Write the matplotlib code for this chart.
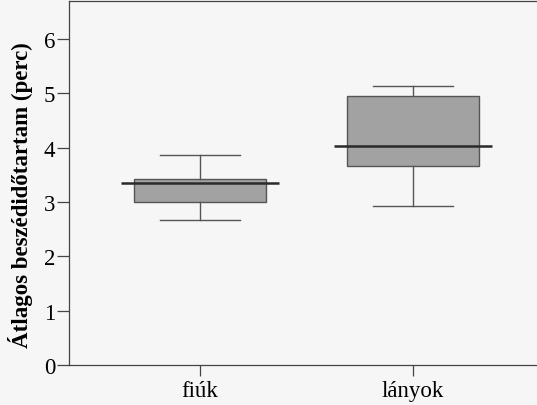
import matplotlib
matplotlib.use("Agg")
import matplotlib.pyplot as plt

# values
groups = ["fiúk", "lányok"]
whislo = [2.67, 2.93]
q1 = [3.00, 3.66]
med = [3.35, 4.03]
q3 = [3.43, 4.95]
whishi = [3.87, 5.14]
yticks = [0, 1, 2, 3, 4, 5, 6]

plt.rcParams['font.family'] = ['Liberation Serif', 'DejaVu Serif']

fig = plt.figure(figsize=(5.37, 4.06), dpi=100)
fig.patch.set_facecolor('#f6f6f6')
ax = fig.add_axes([0.1285, 0.0985, 0.8715, 0.8965])
ax.set_facecolor('#f6f6f6')

pos = [1, 2]
stats = []
for i, g in enumerate(groups):
    stats.append({"label": g, "whislo": whislo[i], "q1": q1[i], "med": med[i],
                  "q3": q3[i], "whishi": whishi[i], "fliers": []})

edge = '#555555'
ax.bxp(stats, positions=pos, widths=0.62, patch_artist=True, showfliers=False,
       boxprops=dict(facecolor='#a2a2a2', edgecolor=edge, linewidth=1.0),
       whiskerprops=dict(color=edge, linewidth=1.0),
       capprops=dict(color=edge, linewidth=1.0),
       capwidths=0.38,
       medianprops=dict(linewidth=0))
# median line sticks out past the box
for p, m in zip(pos, med):
    ax.hlines(m, p - 0.37, p + 0.37, color='#2a2a2a', linewidth=1.8, zorder=5)

ax.set_xlim(0.385, 2.582)
ax.set_ylim(0, 6.7)
ax.set_yticks(yticks)
ax.set_xticks(pos)
ax.set_xticklabels(groups)
ax.tick_params(axis='both', direction='out', labelsize=16.5, color='#444444',
               width=0.9)
ax.tick_params(axis='y', length=9, pad=1)
ax.tick_params(axis='x', length=8, pad=3)
ax.spines['right'].set_visible(False)
for s in ['left', 'top', 'bottom']:
    ax.spines[s].set_color('#444444')
    ax.spines[s].set_linewidth(0.9)

ax.set_ylabel("Átlagos beszédidőtartam (perc)", fontsize=16.5, fontweight='bold')
ax.yaxis.set_label_coords(-0.076, 0.47)

fig.savefig("out.png", dpi=100, facecolor=fig.get_facecolor())
